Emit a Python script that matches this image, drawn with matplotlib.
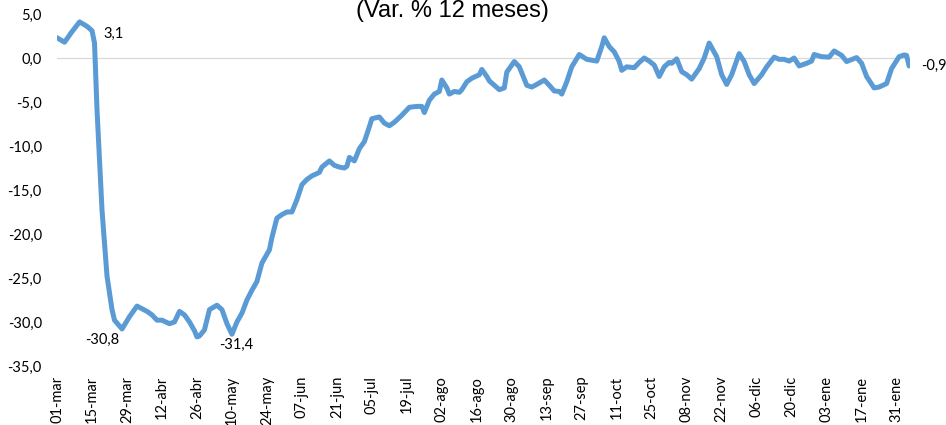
import matplotlib
matplotlib.use("Agg")
import matplotlib.pyplot as plt
import pandas as pd

# Serie diaria (var. % 12 meses): dias desde el 01-mar-2020
inicio = pd.Timestamp("2020-03-01")
dias = [0, 3, 6, 9, 12, 14, 15, 16, 18, 20, 22, 23, 26, 29, 32, 36, 38, 40, 42, 45,
        47, 49, 51, 53, 55, 56, 57, 59, 61, 64, 66, 68, 70, 72, 74, 76, 78, 80, 82, 85,
        86, 88, 90, 92, 94, 96, 98, 100, 102, 105, 106, 109, 111, 113, 115, 116, 117, 119, 121, 123,
        125, 126, 129, 131, 133, 135, 138, 141, 144, 146, 147, 149, 151, 153, 154, 156, 157, 159, 161, 162,
        164, 166, 169, 170, 172, 173, 177, 179, 180, 183, 185, 188, 190, 192, 195, 197, 199, 201, 202, 204,
        206, 209, 212, 216, 218, 219, 221, 223, 225, 226, 228, 231, 233, 235, 237, 239, 241, 243, 245, 246,
        248, 250, 252, 254, 257, 259, 261, 264, 266, 268, 270, 273, 275, 277, 279, 282, 284, 287, 289, 291,
        293, 295, 297, 300, 302, 303, 306, 309, 311, 314, 316, 320, 322, 324, 327, 329, 332, 334, 337, 339,
        340, 341]
valores = [2.3, 1.8, 3.0, 4.1, 3.6, 3.1, 1.7, -5.9, -17.3, -24.8, -28.6, -29.8, -30.8, -29.4, -28.2, -28.8, -29.2, -29.8, -29.8, -30.2,
           -30.0, -28.8, -29.2, -30.0, -31.0, -31.7, -31.6, -30.9, -28.6, -28.1, -28.6, -30.2, -31.4, -30.0, -29.0, -27.5, -26.4, -25.4, -23.3, -21.8,
           -20.4, -18.2, -17.8, -17.5, -17.5, -16.1, -14.4, -13.8, -13.4, -13.0, -12.4, -11.7, -12.2, -12.4, -12.5, -12.3, -11.3, -11.7, -10.3, -9.5,
           -7.8, -6.9, -6.7, -7.4, -7.7, -7.3, -6.5, -5.6, -5.5, -5.5, -6.2, -4.8, -4.1, -3.8, -2.5, -3.4, -4.1, -3.8, -3.9, -3.6,
           -2.7, -2.3, -1.9, -1.3, -2.1, -2.6, -3.6, -3.4, -1.6, -0.4, -1.0, -3.1, -3.3, -3.0, -2.5, -3.1, -3.75, -3.8, -4.1, -2.7,
           -1.0, 0.4, -0.15, -0.35, 1.3, 2.3, 1.3, 0.7, -0.4, -1.4, -1.0, -1.1, -0.5, 0.0, -0.35, -0.8, -2.1, -1.0, -0.5, -0.6,
           -0.1, -1.55, -1.9, -2.4, -1.2, 0.0, 1.7, 0.15, -1.9, -3.0, -1.9, 0.5, -0.4, -1.9, -2.9, -1.9, -1.0, 0.1, -0.15, -0.15,
           -0.35, 0.0, -0.9, -0.6, -0.35, 0.4, 0.15, 0.1, 0.8, 0.3, -0.4, 0.05, -0.6, -2.1, -3.4, -3.3, -2.9, -1.2, 0.15, 0.35,
           0.3, -0.9]

# etiquetas del eje x cada 14 dias
etiquetas_x = ["01-mar", "15-mar", "29-mar", "12-abr", "26-abr", "10-may", "24-may", "07-jun",
               "21-jun", "05-jul", "19-jul", "02-ago", "16-ago", "30-ago", "13-sep", "27-sep",
               "11-oct", "25-oct", "08-nov", "22-nov", "06-dic", "20-dic", "03-ene", "17-ene", "31-ene"]
# valores rotulados: (dia, valor)
rotulos = [(14, 3.1), (26, -30.8), (70, -31.4), (341, -0.9)]

fechas = inicio + pd.to_timedelta(dias, unit="D")
ticks = inicio + pd.to_timedelta([14 * i for i in range(len(etiquetas_x))], unit="D")

plt.rcParams["font.family"] = ["Lato", "DejaVu Sans"]
fig = plt.figure(figsize=(9.46, 4.25), dpi=100)
ax = fig.add_axes([0.0603, 0.139, 0.902, 0.828])

azul = "#5B9BD5"
ax.axhline(0, color="#D9D9D9", linewidth=0.9, zorder=1)
ax.plot(fechas, valores, color=azul, linewidth=3.6, solid_capstyle="round",
        solid_joinstyle="round", zorder=3)

ax.set_ylim(-35, 5)
ax.set_yticks([5 - 5 * i for i in range(9)])
ax.set_yticklabels([f"{5 - 5 * i:.1f}".replace(".", ",") for i in range(9)])
ax.set_xlim(inicio, inicio + pd.Timedelta(days=dias[-1] + 0.5))
ax.set_xticks(ticks)
ax.set_xticklabels(etiquetas_x, rotation=90)
ax.tick_params(axis="y", length=0, pad=11, labelsize=10.5, colors="#000000")
ax.tick_params(axis="x", length=0, pad=7, labelsize=10.5, colors="#000000")
for s in ax.spines.values():
    s.set_visible(False)

# rotulos de datos
desplaz = {14: (11, -3, "left"), 26: (-20, -11, "center"), 70: (4, -11, "center"), 341: (12, 0, "left")}
for d, v in rotulos:
    dx, dy, ha = desplaz[d]
    ax.annotate(f"{v:.1f}".replace(".", ","), (inicio + pd.Timedelta(days=d), v),
                xytext=(dx, dy), textcoords="offset pixels", ha=ha, va="center",
                fontsize=10.5, color="#000000", annotation_clip=False)

fig.text(452 / 946, 1 - 17 / 425, "(Var. % 12 meses)", ha="center", va="baseline",
         fontsize=17, family=["Liberation Sans", "DejaVu Sans"], color="#000000")

fig.savefig("out.png", dpi=100)
